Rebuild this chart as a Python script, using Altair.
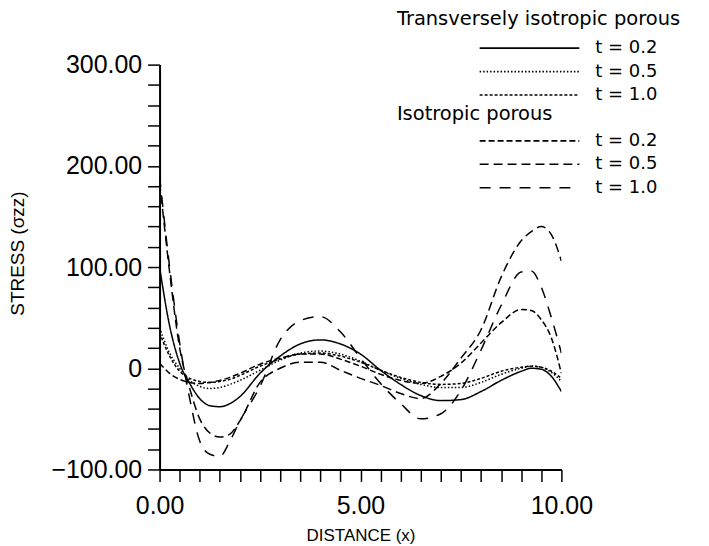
import altair as alt
import pandas as pd

# ---- data ----
x_vals = [0, 0.25, 0.5, 0.75, 1.0, 1.25, 1.5, 1.75, 2.0, 2.5, 3.0, 3.5, 4.0, 4.5,
          5.0, 5.5, 6.0, 6.5, 7.0, 7.5, 8.0, 8.5, 9.0, 9.25, 9.5, 9.75, 10.0]

# Transversely isotropic porous
ti_t02 = [100, 42, 5, -15, -30, -37, -38, -35, -28, -5, 12, 24, 28, 24,
          14, -2, -16, -27, -32, -31, -23, -12, -3, 0, -1, -8, -23]
ti_t05 = [40, 15, 0, -12, -18, -20, -19, -16, -12, -2, 8, 15, 17, 14,
          7, -2, -10, -16, -19, -19, -14, -6, 0, 2, 1, -4, -13]
ti_t10 = [35, 12, -3, -10, -13, -14, -13, -11, -7, 2, 9, 14, 15, 12,
          6, -2, -9, -14, -16, -15, -10, -3, 1, 2, 1, -3, -10]

# Isotropic porous
iso_t02 = [5, -5, -11, -14, -15, -14, -12, -9, -5, 4, 10, 14, 14, 9,
           2, -6, -12, -15, -8, 5, 25, 45, 58, 57, 48, 30, -5]
iso_t05 = [185, 95, 20, -20, -50, -64, -68, -65, -52, -14, 0, 6, 6, -2,
           -10, -17, -25, -30, -15, 10, 38, 90, 126, 135, 140, 132, 106]
iso_t10 = [190, 100, 25, -30, -72, -85, -87, -72, -52, -18, 28, 47, 51, 36,
           10, -15, -35, -50, -45, -22, 18, 62, 95, 96, 80, 50, 15]

series_labels = ["t = 0.2", "t = 0.5", "t = 1.0"]
ti_dashes = [[1, 0], [1.5, 2], [3, 2]]
iso_dashes = [[6, 3], [9, 5], [11, 9]]

y_tick_values = list(range(-100, 301, 20))
y_label_values = [-100, 0, 100, 200, 300]
y_label_texts = ["\u2212100.00", "0", "100.00", "200.00", "300.00"]
x_tick_values = [i * 0.5 for i in range(21)]
x_label_values = [0, 5, 10]
x_label_texts = ["0.00", "5.00", "10.00"]


def long_frame(series_list):
    rows = []
    for lab, ys in zip(series_labels, series_list):
        for xv, yv in zip(x_vals, ys):
            rows.append({"x": xv, "y": yv, "t": lab})
    return pd.DataFrame(rows)


ti_df = long_frame([ti_t02, ti_t05, ti_t10])
iso_df = long_frame([iso_t02, iso_t05, iso_t10])


def label_expr(values, texts):
    expr = "''"
    for v, t in reversed(list(zip(values, texts))):
        expr = f"abs(datum.value - ({v})) < 1e-6 ? '{t}' : ({expr})"
    return expr


FONT = "Liberation Sans"
LEG_FONT = "DejaVu Sans"

x_enc = alt.X("x:Q", scale=alt.Scale(domain=[0, 10], nice=False, zero=False),
              axis=alt.Axis(values=x_tick_values,
                            labelExpr=label_expr(x_label_values, x_label_texts),
                            labelFlush=False,
                            title="DISTANCE (x)", titleY=66, titleBaseline="middle",
                            titleFontSize=17, labelPadding=12))
y_enc = alt.Y("y:Q", scale=alt.Scale(domain=[-100, 300], nice=False, zero=False),
              axis=alt.Axis(values=y_tick_values,
                            labelExpr=label_expr(y_label_values, y_label_texts),
                            labelFlush=False,
                            title="STRESS (\u03c3zz)", titleX=-142, titleY=189,
                            titleBaseline="middle", titleAlign="center",
                            titleFontSize=19, labelPadding=6))

ti_layer = alt.Chart(ti_df).mark_line(
    color="black", strokeWidth=1.5, interpolate="monotone", clip=True
).encode(
    x=x_enc, y=y_enc,
    strokeDash=alt.StrokeDash(
        "t:N",
        scale=alt.Scale(domain=series_labels, range=ti_dashes),
        legend=alt.Legend(title="Transversely isotropic porous", orient="none",
                          legendX=238, legendY=-55, titlePadding=10),
    ),
)

iso_layer = alt.Chart(iso_df).mark_line(
    color="black", strokeWidth=1.5, interpolate="monotone", clip=True
).encode(
    x=x_enc, y=y_enc,
    strokeDash=alt.StrokeDash(
        "t:N",
        scale=alt.Scale(domain=series_labels, range=iso_dashes),
        legend=alt.Legend(title="Isotropic porous", orient="none",
                          legendX=238, legendY=41, titlePadding=7),
    ),
)

chart = alt.layer(ti_layer, iso_layer).resolve_scale(
    strokeDash="independent"
).resolve_legend(
    strokeDash="independent"
).properties(
    width=403, height=406,
    autosize=alt.AutoSizeParams(type="none"),
    padding={"left": 152, "top": 56, "right": 140, "bottom": 76},
    background="white",
).configure_view(
    stroke=None
).configure_axis(
    grid=False,
    domainColor="black", domainWidth=2,
    tickColor="black", tickWidth=1.5, tickSize=12,
    labelFont=FONT, labelFontSize=25, labelColor="black",
    titleFont=FONT, titleFontWeight="normal", titleColor="black",
).configure_legend(
    titleFont=LEG_FONT, titleFontSize=19.5, titleFontWeight="normal", titleColor="black",
    titleLimit=500,
    labelFont=LEG_FONT, labelFontSize=18, labelColor="black",
    symbolType="stroke", symbolSize=10000, symbolStrokeWidth=1.6,
    symbolStrokeColor="black", symbolOffset=82, labelOffset=15,
    clipHeight=18, rowPadding=5.5, padding=0,
)

chart.save("out.html", embed_options={"renderer": "svg", "actions": False})
